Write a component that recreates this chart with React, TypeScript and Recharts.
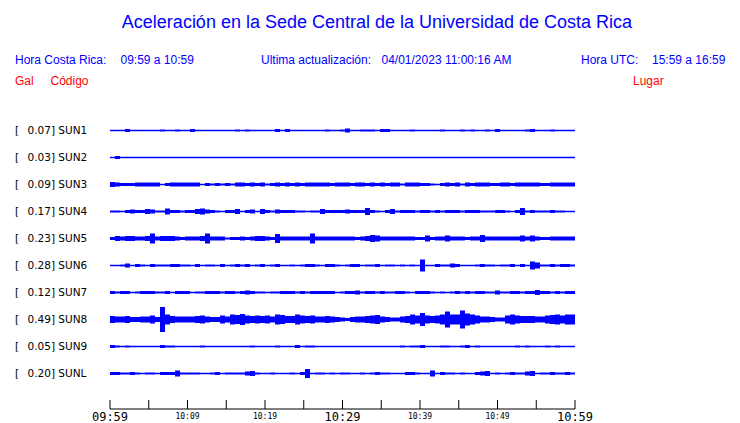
import React from 'react';
import { ComposedChart, Area, XAxis, YAxis } from 'recharts';

// ---- labels ----
const stationCodes = ['SUN1', 'SUN2', 'SUN3', 'SUN4', 'SUN5', 'SUN6', 'SUN7', 'SUN8', 'SUN9', 'SUNL'];
const peakGal = [0.07, 0.03, 0.09, 0.17, 0.23, 0.28, 0.12, 0.49, 0.05, 0.2];
const siteNames = [
  'CIMAR', 'Ingenieria P01', 'Ingenieria P06', 'EBCI', 'Rectoria',
  'Agroalimentarias', 'Archivo', 'Electrica P06', 'Electrica P01', 'LANAMME-CTT',
];

// ---- time axis (minutes after 09:59) ----
const tickMinutes = [0, 5, 10, 15, 20, 25, 30, 35, 40, 45, 50, 55, 60];
const labeledMinutes = [0, 10, 20, 30, 40, 50, 60];
const labeledTimes = ['09:59', '10:09', '10:19', '10:29', '10:39', '10:49', '10:59'];
const largeLabelMinutes = [0, 30, 60];

// ---- trace envelopes (half-amplitude per time bin, 93 bins over 60 min) ----
const sun1 = [
  0, 0, 0, 1.5, 0, 0, 0, 0, 0, 0,
  1, 0, 0, 1, 0, 0, 1.5, 0, 0, 0,
  0, 0, 0, 0, 0, 1, 0, 1, 0, 0,
  0, 0, 0, 1.5, 0, 1.5, 0, 0, 0, 0,
  0, 0, 0, 1, 0, 0, 1, 2, 0, 0,
  1, 1, 1, 0, 1.5, 1.5, 0, 0, 0, 0,
  1, 0, 0, 0, 0, 0, 1, 0, 0, 0,
  1, 0, 1, 0, 0, 1, 0, 1.5, 0, 0,
  0, 0, 0, 1, 1.5, 0, 0, 0, 1, 0,
  0, 0, 0,
];
const sun2 = [
  0, 1.5, 0, 0, 0, 0, 0, 0, 0, 0,
  0, 0, 0, 0, 0, 0, 0, 0, 0, 0,
  0, 0, 0, 0, 0, 0, 0, 0, 0, 0,
  0, 0, 0, 0, 0, 0, 0, 0, 0, 0,
  0, 0, 0, 0, 0, 0, 0, 0, 0, 0,
  0, 0, 0, 0, 0, 0, 0, 0, 0, 0,
  0, 0, 0, 0, 0, 0, 0, 0, 0, 0,
  0, 0, 0, 0, 0, 0, 0, 0, 0, 0,
  0, 0, 0, 0, 0, 0, 0, 0, 0, 0,
  0, 0, 0,
];
const sun3 = [
  2.5, 2, 1.5, 1.5, 1.5, 2, 2, 2, 2, 2,
  0.5, 1.5, 2, 2, 2, 2, 2, 2, 0.5, 1.5,
  1, 1.5, 1, 1.5, 1, 2, 2, 1.5, 2, 1.5,
  2, 1, 1.5, 2, 1.5, 2, 1.5, 2, 1.5, 2,
  2, 2, 2, 2, 1.5, 2, 2, 2, 1.5, 2,
  2, 1.5, 2, 1.5, 2, 1.5, 2, 2, 1, 2,
  2, 2, 1.5, 1.5, 1, 0.5, 1.5, 2, 1.5, 2,
  1, 2, 1.5, 2, 2, 2, 1.5, 1.5, 2, 2,
  1.5, 2, 2, 2, 2, 2, 1.5, 1.5, 2, 2,
  2, 2, 2,
];
const sun4 = [
  1, 1, 0.5, 1.5, 2, 1.5, 1.5, 2.5, 2, 1,
  1, 3, 1.5, 1.5, 1, 1.5, 1.5, 2.5, 3, 2,
  1.5, 1, 0.5, 1.5, 1.5, 2.5, 0.5, 1.5, 2, 0.5,
  2.5, 1.5, 1, 2, 1.5, 1.5, 1.5, 1, 1, 0.5,
  1, 1, 2.5, 1.5, 1.5, 1.5, 1.5, 2, 1.5, 1.5,
  1.5, 3.5, 1.5, 1, 0.5, 1.5, 2.5, 1, 1.5, 1.5,
  1.5, 1, 1.5, 1.5, 1, 1.5, 1, 1.5, 1.5, 1.5,
  1, 1.5, 1.5, 1.5, 1, 1, 1, 1.5, 1.5, 1,
  0.5, 1.5, 3.5, 1, 1.5, 1, 1, 1, 1.5, 1,
  1, 0.5, 0.5,
];
const sun5 = [
  1.5, 2.5, 2, 2.5, 2.5, 2, 2, 2.5, 5, 2,
  2.5, 2.5, 2.5, 2, 1.5, 2, 2, 2, 2.5, 5,
  2, 2, 2, 1, 1.5, 1.5, 2, 1.5, 2, 2.5,
  2.5, 2, 1.5, 4.5, 2, 2, 2, 2, 2, 2,
  5, 2, 2, 2, 2, 2, 2, 2, 2, 1.5,
  2, 2.5, 3.5, 3, 2, 2, 2, 2, 2, 2,
  2, 1.5, 1.5, 3, 1.5, 2, 2, 3, 2, 2,
  2, 1.5, 2, 2, 3.5, 2, 2, 2, 2, 2,
  2, 2, 3, 2, 3, 2, 1.5, 1.5, 2, 2,
  2, 2, 2,
];
const sun6 = [
  0.5, 0.5, 1, 2, 0.5, 1.5, 1, 0.5, 1.5, 1,
  1, 1, 1.5, 1.5, 1, 1, 0.5, 1.5, 0.5, 1,
  1, 0.5, 1.5, 0.5, 1, 1.5, 1, 1.5, 0.5, 1,
  1.5, 0.5, 1, 1.5, 0.5, 0.5, 1, 0.5, 1, 1.5,
  1.5, 1, 0.5, 1.5, 1.5, 1, 0.5, 1, 1.5, 1.5,
  0.5, 1, 1, 1.5, 0.5, 1, 1, 0.5, 1, 0.5,
  1, 0.5, 6, 0.5, 0.5, 1.5, 1, 1, 2, 1.5,
  0.5, 0.5, 0.5, 1, 1.5, 1, 1, 0.5, 1, 1,
  1.5, 0.5, 1.5, 0.5, 4, 3, 1, 1, 1.5, 1,
  1.5, 1.5, 1,
];
const sun7 = [
  1.5, 1, 1.5, 1.5, 0.5, 1, 1.5, 1.5, 1.5, 1,
  1, 1.5, 0.5, 1.5, 1.5, 1.5, 0.5, 1, 1, 1.5,
  1.5, 1.5, 1, 1.5, 1.5, 1, 1.5, 2, 1.5, 1,
  1, 0.5, 1, 1, 1.5, 1.5, 1.5, 1, 1.5, 1,
  1.5, 1.5, 1.5, 1.5, 1.5, 0.5, 1, 1.5, 1.5, 2,
  1, 1.5, 1.5, 1, 1.5, 1, 1, 1.5, 1.5, 1,
  0.5, 1.5, 1.5, 1.5, 1, 0.5, 1, 0.5, 1, 1.5,
  1, 1.5, 1, 1.5, 1.5, 1, 1, 2, 1, 1,
  1.5, 1.5, 1, 1.5, 1.5, 2.5, 1.5, 1.5, 1, 1.5,
  1, 1.5, 1.5,
];
const sun8 = [
  3.5, 3, 3, 3.5, 2.5, 2.5, 3, 3, 4, 2.5,
  12.5, 5, 3.5, 3, 3, 3, 3, 3.5, 4, 3,
  2.5, 2.5, 4, 3, 5, 4.5, 5.5, 4, 3.5, 4,
  3.5, 4, 3, 5, 4.5, 3.5, 3.5, 5, 4, 3.5,
  4, 3, 3, 3.5, 3, 2.5, 2, 1.5, 2.5, 3,
  3, 3.5, 4, 4.5, 3, 2.5, 2, 2, 3, 3.5,
  5, 4, 6.5, 4, 3.5, 4, 5, 8, 5, 5,
  9, 6, 5, 4, 3, 3, 2.5, 2, 2, 4,
  5, 4, 3.5, 3.5, 3.5, 3, 3, 4, 4.5, 5,
  4, 5, 5,
];
const sun9 = [
  1.5, 1, 0, 1, 0, 0, 0, 0, 0.5, 0,
  1.5, 1, 1, 0, 0, 0, 0, 0, 1, 0,
  0, 0, 0, 0, 0, 0, 0.5, 0, 1, 0,
  0, 0, 0, 1, 0, 0, 0, 1.5, 0, 1,
  1, 0, 0, 0, 0, 0, 0, 0, 0, 0,
  0.5, 0, 0, 0, 0, 0, 0, 0, 1, 0,
  1, 1, 1.5, 0, 0, 0, 1, 1, 0, 0,
  1, 1.5, 0, 1, 0, 0, 0, 0, 0, 0,
  0, 1, 0, 1, 0, 0, 0, 1, 0, 1,
  0, 0, 0,
];
const sunL = [
  1.5, 1.5, 1, 1, 1.5, 1, 0.5, 1, 1, 0.5,
  1.5, 1.5, 1.5, 3, 1, 1, 1, 1, 0.5, 0.5,
  1, 1.5, 0.5, 1, 1, 1, 1, 2, 2.5, 1,
  0.5, 0.5, 1, 0.5, 0.5, 0.5, 1, 0.5, 1.5, 4.5,
  0.5, 1, 1, 0.5, 1, 0.5, 1, 1, 0.5, 0.5,
  1, 0.5, 1, 1.5, 1, 1, 0.5, 0.5, 0.5, 1.5,
  1.5, 1, 0.5, 0.5, 3, 0.5, 1.5, 1, 1, 0.5,
  1, 0.5, 0.5, 1.5, 2, 2.5, 0.5, 1, 0.5, 1,
  1.5, 1, 1, 2, 2.5, 0.5, 1, 1, 1.5, 1,
  1, 1.5, 1,
];

const traces = [sun1, sun2, sun3, sun4, sun5, sun6, sun7, sun8, sun9, sunL];

// ---- layout / style constants ----
const SPAN_MIN = 60;
const BINS = 93;
const Y_MAX = 309;
const ROW_FIRST = 30.5;
const ROW_GAP = 27;
const MIN_HALF = 0.75;
const BLUE = '#0000ff';
const SANS = '"Liberation Sans", Arial, Helvetica, sans-serif';
const DJ = '"DejaVu Sans", sans-serif';
const MONO = '"DejaVu Sans Mono", monospace';

const rowCenters = traces.map((_, i) => ROW_FIRST + ROW_GAP * i);

const data = Array.from({ length: BINS + 1 }, (_, k) => {
  const row: Record<string, any> = { t: (k * SPAN_MIN) / BINS };
  traces.forEach((amps, i) => {
    const a = Math.max(amps[Math.min(k, BINS - 1)], MIN_HALF);
    row['s' + i] = [rowCenters[i] - a, rowCenters[i] + a];
  });
  return row;
});

const TimeTick = (props: any) => {
  const { x, y, payload } = props;
  const v = payload.value;
  const li = labeledMinutes.indexOf(v);
  const large = largeLabelMinutes.includes(v);
  return (
    <g>
      <line x1={x} x2={x} y1={y} y2={y - 9} stroke="#000" strokeWidth={1} />
      {li >= 0 && (
        <text
          x={x}
          y={y + (large ? 12 : 9.5)}
          textAnchor="middle"
          fontFamily={MONO}
          fontSize={large ? 12 : 8}
          fill="#000"
        >
          {labeledTimes[li]}
        </text>
      )}
    </g>
  );
};

const LeftTick = (props: any) => {
  const { x, y, index } = props;
  return (
    <g fontFamily={DJ} fontSize={10.5} fill="#000">
      <text x={x - 95} y={y} dy="0.36em">[</text>
      <text x={x - 82.5} y={y} dy="0.36em">
        {peakGal[index].toFixed(2)}] {stationCodes[index]}
      </text>
    </g>
  );
};

const RightTick = (props: any) => {
  const { x, y, index } = props;
  return (
    <text x={x + 12} y={y} dy="0.36em" fontFamily={DJ} fontSize={10.5} fill="#000">
      {siteNames[index]}
    </text>
  );
};

export default function App() {
  return (
    <div style={{ position: 'absolute', left: 0, top: 0, width: 740, height: 423, background: '#fff' }}>
      <div style={{ position: 'absolute', left: 0, top: 0 }}>
        <ComposedChart width={740} height={423} data={data} margin={{ top: 100, right: 0, bottom: 0, left: 0 }}>
          <XAxis
            dataKey="t"
            type="number"
            domain={[0, SPAN_MIN]}
            ticks={tickMinutes}
            interval={0}
            height={14}
            tickSize={0}
            tickMargin={0}
            tickLine={false}
            axisLine={{ stroke: '#000', strokeWidth: 1 }}
            tick={TimeTick}
          />
          <YAxis
            yAxisId="l"
            type="number"
            domain={[0, Y_MAX]}
            reversed
            width={110}
            ticks={rowCenters}
            interval={0}
            tickSize={0}
            tickMargin={0}
            axisLine={false}
            tickLine={false}
            tick={LeftTick}
          />
          <YAxis
            yAxisId="r"
            orientation="right"
            type="number"
            domain={[0, Y_MAX]}
            reversed
            width={165}
            ticks={rowCenters}
            interval={0}
            tickSize={0}
            tickMargin={0}
            axisLine={false}
            tickLine={false}
            tick={RightTick}
          />
          {traces.map((_, i) => (
            <Area
              key={i}
              yAxisId="l"
              type="stepAfter"
              dataKey={'s' + i}
              stroke="none"
              fill={BLUE}
              fillOpacity={1}
              dot={false}
              activeDot={false}
              isAnimationActive={false}
            />
          ))}
        </ComposedChart>
      </div>
      <svg
        width={740}
        height={423}
        style={{ position: 'absolute', left: 0, top: 0, pointerEvents: 'none' }}
      >
        <text x={377} y={28} textAnchor="middle" fontFamily={SANS} fontSize={18} fill={BLUE}>
          Aceleración en la Sede Central de la Universidad de Costa Rica
        </text>
        <g fontFamily={SANS} fontSize={12} fill={BLUE}>
          <text x={15} y={64}>Hora Costa Rica:</text>
          <text x={120.5} y={64}>09:59 a 10:59</text>
          <text x={261} y={64}>Ultima actualización:</text>
          <text x={381.5} y={64}>04/01/2023 11:00:16 AM</text>
          <text x={581} y={64}>Hora UTC:</text>
          <text x={652} y={64}>15:59 a 16:59</text>
        </g>
        <g fontFamily={SANS} fontSize={12} fill="#ff0000">
          <text x={15} y={85}>Gal</text>
          <text x={50.5} y={85}>Código</text>
          <text x={633} y={85}>Lugar</text>
        </g>
      </svg>
    </div>
  );
}
